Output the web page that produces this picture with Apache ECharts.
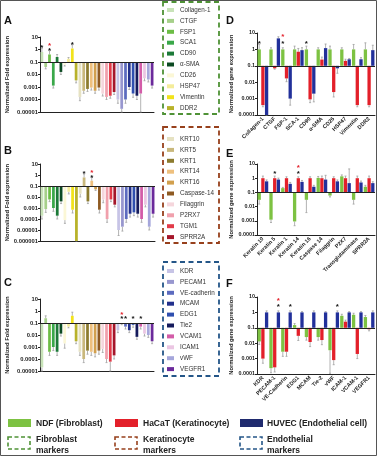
<!DOCTYPE html>
<html>
<head>
<meta charset="utf-8">
<script src="https://cdn.jsdelivr.net/npm/echarts@6/dist/echarts.min.js"></script>
<style>
html, body { margin: 0; padding: 0; background: #fff; }
#chart { width: 377px; height: 456px; }
</style>
</head>
<body>
<div id="chart"></div>
<script>
// marker genes, in legend order
const markerNames = ['Collagen-1','CTGF','FSP1','SCA1','CD90','α-SMA','CD26','HSP47','Vimentin','DDR2',
  'KRT10','KRT5','KRT1','KRT14','KRT16','Caspase-14','Filaggrin','P2RX7','TGM1','SPRR2A',
  'KDR','PECAM1','VE-cadherin','MCAM','EDG1','Tie2','VCAM1','ICAM1','vWF','VEGFR1'];
const markerColors = ['#c8e3b8','#a6d08a','#6cbd45','#3aa84a','#1c7a38','#0c4a22','#fbf7d6','#f4ec9a','#f2e31a','#b8b22a',
  '#e6e2c2','#c9b87c','#8c7b2e','#eec07e','#d2a04e','#8e5a22','#f5d6dc','#f0a0ac','#e23a48','#a5162a',
  '#c7c4e6','#9897cf','#5c6bbf','#22308c','#2f4faf','#151b5c','#d35ca8','#ebc6e3','#a5a6db','#6b2a9b'];

// fold expression, panels A-C
const foldA = [0.63,0.04,0.4,0.0013,0.25,0.016,0.06,0.18,1.2,0.0034,
  0.00016,0.0005,0.0007,0.0009,0.0005,0.0009,0.0003,0.00016,0.0002,0.0004,
  0.0001,0.000018,0.0001,0.001,0.0003,0.0002,0.0003,0.005,0.004,0.0013];
const errA = [0.3,0.15,0.3,0.2,0.2,0.2,0.1,0.1,0.3,0.2, 0.3,0.2,0.2,0.2,0.2,0.2,0.2,0.2,0.2,0.2,
  0.3,0.3,0.3,0.2,0.3,0.3,1.5,0.2,0.2,0.2];
const foldB = [0.0002,0.0008,0.006,0.001,0.0002,0.004,0.00008,0.03,0.0007,0.000001,
  0.02,0.6,0.004,0.3,0.05,0.0007,0.006,0.0001,0.006,0.002,
  0.00001,0.00002,0.0001,0.0003,0.0004,0.0003,0.0001,0.002,0.00002,0.0003];
const errB = [0.3,0.3,0.2,0.3,0.3,0.2,0.3,0.2,0.3,0.1, 0.3,0.3,0.2,0.3,0.1,0.3,0.3,0.3,0.2,0.2,
  0.5,0.4,0.3,0.3,0.3,0.3,0.3,0.2,0.3,0.3];
const foldC = [0.00002,0.25,0.0004,0.001,0.0004,0.013,0.002,0.05,0.4,0.003,
  0.0004,0.0001,0.0005,0.0004,0.0003,0.0005,0.0007,0.0001,0.00006,0.0002,
  0.025,0.09,0.05,0.025,0.07,0.007,0.05,0.013,0.01,0.003];
const errC = [0.3,0.2,0.3,0.3,0.3,0.2,0.4,0.1,0.3,0.2, 0.3,0.3,0.3,0.3,0.3,0.3,0.3,0.3,0.8,0.3,
  0.2,0.1,0.2,0.2,0.2,0.2,0.2,0.2,0.2,0.2];

// gene expression, panels D-F (NDF, HaCaT, HUVEC)
const catsD = ['Collagen-1','CTGF','FSP-1','SCA-1','CD90','α-SMA','CD26','HSP47','Vimentin','DDR2'];
const ndfD = [1,1,1,1,1,1,1,1,1,1];
const hacatD = [0.0004,0.07,0.017,0.72,0.0009,0.24,0.0025,0.2,0.0004,0.0004];
const huvecD = [0.0001,4.7,0.001,0.9,0.002,1.2,0.07,0.25,0.25,0.9];
const errNdfD = [0.3,0.1,0.1,0.2,0.2,0.1,0.2,0.1,0.3,0.4];
const errHacatD = [0.1,0.05,0.2,0.2,0.2,0.15,0.3,0.1,0.1,0.1];
const errHuvecD = [0,0.1,0.4,0.15,0.5,0.25,0.3,0.05,0.1,0.3];

const catsE = ['Keratin 10','Keratin 5','Keratin 1','Keratin 14','Keratin 16','Caspase 14','Filaggrin','P2X7','Transglutaminase','SPRR2A'];
const ndfE = [0.03,0.0012,0.2,0.0009,0.03,1.05,0.06,1.35,0.03,0.25];
const hacatE = [1,1,1,1,1,1,1,1,1,1];
const huvecE = [0.6,0.8,0.4,0.55,0.25,0.8,0.6,0.45,0.5,0.45];
const errNdfE = [0.3,0.2,0.05,0.3,0.9,0.1,0.1,0.1,0.3,0.1];
const errHacatE = [0.15,0.15,0.1,0.1,0.1,0.15,0.1,0.15,0.15,0.15];
const errHuvecE = [0.1,0.1,0.1,0.1,0.1,0.3,0.1,1.0,0.1,0.1];

const catsF = ['KDR','PECAM-1','VE-Cadherin','EDG1','MCAM','Tie-2','vWF','ICAM-1','VCAM-1','VEGFR1'];
const ndfF = [0.013,0.00024,0.0028,0.15,0.025,0.025,0.0035,0.6,0.7,0.5];
const hacatF = [0.001,0.00027,0.0028,0.03,0.012,0.016,0.0008,0.25,0.002,0.08];
const huvecF = [1,1,1,1,1,1,1,1,1,1];
const errNdfF = [0.2,0.3,0.3,0.1,0.2,0.2,1.5,0.1,0.1,0.1];
const errHacatF = [0.3,0.3,0.3,0.3,0.3,0.3,0.3,0.1,0.3,0.1];
const errHuvecF = [0.1,0.1,0.1,0.05,0.1,0.05,0.1,0.05,0.05,0.1];

// significance stars (bar indices)
const starsA = [0,2,8], redStarsA = [2];
const starsB = [11,13], redStarsB = [13];
const starsC = [21,22,24,26], redStarsC = [21];
const starsD = [0,2,4], redStarsD = [2];
const starsE = [1,3], redStarsE = [3];
const starsF = [1,2,6], redStarsF = [1];

const legendNames = ['NDF (Fibroblast)','HaCaT (Keratinocyte)','HUVEC (Endothelial cell)'];
const boxNames = [['Fibroblast','markers'],['Keratinocyte','markers'],['Endothelial','markers']];

const GREEN = '#7dc242', RED = '#e3202a', BLUE = '#22309a';
const BOXCOL = ['#4f9236','#97401c','#245688'];
const FONT = 'Liberation Sans';
const STEP = 3.7;

// plots are drawn in decades relative to 0.1
const t = v => Math.log10(v) + 1;
const tickFmt = x => {
  const e = Math.round(x) - 1;
  return e >= 0 ? String(Math.pow(10, e)) : Math.pow(10, e).toFixed(-e);
};

const grids = [
  {left: 40, top: 37, width: 114, height: 75},
  {left: 40, top: 164, width: 115, height: 77},
  {left: 40, top: 299, width: 114, height: 72},
  {left: 257, top: 33, width: 118, height: 82},
  {left: 257, top: 164, width: 118, height: 71},
  {left: 257, top: 297, width: 118, height: 77}
];
const yMins = [-4, -5, -4, -3, -3, -3];

const xAxis = grids.map((g, i) => ({
  type: 'category', gridIndex: i,
  data: i < 3 ? markerNames : [catsD, catsE, catsF][i - 3],
  axisLine: {onZero: false, lineStyle: {color: '#222', width: 1}},
  axisTick: {alignWithLabel: true, interval: 0, length: 2, lineStyle: {color: '#222'}},
  axisLabel: i < 3 ? {show: false} : {
    interval: 0, rotate: 45, fontSize: 5.5, fontWeight: 'bold', color: '#222',
    fontFamily: FONT, margin: 3
  }
}));

const yAxis = grids.map((g, i) => ({
  type: 'value', gridIndex: i, min: yMins[i], max: 2, interval: 1,
  name: i < 3 ? 'Normalized Fold expression' : 'Normalized gene expression',
  nameLocation: 'middle', nameGap: i < 3 ? 30 : 20,
  nameTextStyle: {fontSize: 5.8, fontWeight: 'bold', color: '#222', fontFamily: FONT},
  axisLine: {show: true, lineStyle: {color: '#222', width: 1}},
  axisTick: {show: true, length: 2, lineStyle: {color: '#222'}},
  splitLine: {show: false},
  axisLabel: {formatter: tickFmt, fontSize: i < 3 ? 5.8 : 5.4, fontWeight: 'bold', color: '#222',
    fontFamily: FONT, margin: 2}
}));

const baseLine = {
  silent: true, symbol: 'none', animation: false,
  label: {show: false},
  lineStyle: {color: '#222', width: 1, type: 'solid'},
  data: [{yAxis: 0}]
};

function errSeries(i, vals, errs, off) {
  const lo = yMins[i];
  return {
    type: 'custom', xAxisIndex: i, yAxisIndex: i, silent: true, z: 1,
    data: vals.map((v, k) => {
      const a = t(v), s = a >= 0 ? 1 : -1;
      return [k, Math.max(a, lo), Math.min(2, Math.max(lo, a + s * errs[k]))];
    }),
    renderItem: (p, api) => {
      const p1 = api.coord([api.value(0), api.value(1)]);
      const p2 = api.coord([api.value(0), api.value(2)]);
      const x = p1[0] + off;
      const st = {stroke: '#a0a0a0', lineWidth: 0.8};
      return {type: 'group', children: [
        {type: 'line', shape: {x1: x, y1: p1[1], x2: x, y2: p2[1]}, style: st},
        {type: 'line', shape: {x1: x - 1, y1: p2[1], x2: x + 1, y2: p2[1]}, style: st}
      ]};
    }
  };
}

function starSeries(i, idxs, vals, off, color, lift) {
  return {
    type: 'custom', xAxisIndex: i, yAxisIndex: i, silent: true, z: 5,
    data: idxs.map(k => [k, Math.max(t(vals[k]), 0) + 0.45 + lift]),
    renderItem: (p, api) => {
      const c = api.coord([api.value(0), api.value(1)]);
      return {type: 'text', x: c[0] + off, y: c[1] + 1.5, style: {
        text: '*', fill: color, font: 'bold 8px ' + FONT, align: 'center', verticalAlign: 'middle'
      }};
    }
  };
}

const series = [];
[[foldA, errA, starsA, redStarsA], [foldB, errB, starsB, redStarsB], [foldC, errC, starsC, redStarsC]]
  .forEach(([vals, errs, st, rst], i) => {
    series.push({
      type: 'bar', xAxisIndex: i, yAxisIndex: i, barWidth: '72%',
      data: vals.map((v, k) => ({value: Math.max(t(v), yMins[i]), itemStyle: {color: markerColors[k]}})),
      markLine: baseLine
    });
    series.push(errSeries(i, vals, errs, 0));
    series.push(starSeries(i, st, vals, 0, '#111', 0));
    series.push(starSeries(i, rst, vals, 0, '#e3202a', 0.4));
  });

[
  [ndfD, hacatD, huvecD, errNdfD, errHacatD, errHuvecD, starsD, redStarsD, 0],
  [ndfE, hacatE, huvecE, errNdfE, errHacatE, errHuvecE, starsE, redStarsE, 1],
  [ndfF, hacatF, huvecF, errNdfF, errHacatF, errHuvecF, starsF, redStarsF, 2]
].forEach(([g, r, b, eg, er, eb, st, rst, ref], j) => {
  const i = j + 3;
  const sets = [[g, eg, GREEN], [r, er, RED], [b, eb, BLUE]];
  sets.forEach(([vals, errs, col], s) => {
    series.push({
      type: 'bar', xAxisIndex: i, yAxisIndex: i, barWidth: 3.3, barGap: '12%',
      itemStyle: {color: col},
      data: vals.map(v => Math.max(t(v), yMins[i])),
      markLine: s === 0 ? baseLine : undefined
    });
  });
  sets.forEach(([vals, errs], s) => series.push(errSeries(i, vals, errs, (s - 1) * STEP)));
  const refVals = sets[ref][0];
  series.push(starSeries(i, st, refVals, (ref - 1) * STEP, '#111', 0));
  series.push(starSeries(i, rst, refVals, (ref - 1) * STEP, '#e3202a', 0.4));
});

// legend boxes and labels
const graphic = [];
graphic.push({type: 'rect', shape: {x: 0.5, y: 0.5, width: 376, height: 455},
  style: {fill: 'none', stroke: '#555', lineWidth: 1}});

[['A', 21], ['B', 151], ['C', 283]].forEach(([l, y]) => graphic.push({type: 'text', x: 4, y: y,
  style: {text: l, font: 'bold 11px ' + FONT, fill: '#111', verticalAlign: 'middle'}}));
[['D', 21], ['E', 154], ['F', 284]].forEach(([l, y]) => graphic.push({type: 'text', x: 226, y: y,
  style: {text: l, font: 'bold 11px ' + FONT, fill: '#111', verticalAlign: 'middle'}}));

const boxes = [{y: 2, h: 112, first: 10}, {y: 127, h: 116, first: 139}, {y: 262, h: 114, first: 271}];
boxes.forEach((bx, b) => {
  graphic.push({type: 'rect', shape: {x: 163, y: bx.y, width: 56, height: bx.h},
    style: {fill: 'none', stroke: BOXCOL[b], lineWidth: 1.8, lineDash: [5, 3.5]}});
  for (let k = 0; k < 10; k++) {
    const idx = b * 10 + k, y = bx.first + k * 10.9;
    graphic.push({type: 'rect', shape: {x: 167, y: y - 2, width: 7, height: 4},
      style: {fill: markerColors[idx]}});
    graphic.push({type: 'text', x: 180, y: y, style: {text: markerNames[idx],
      font: '6.3px ' + FONT, fill: '#333', verticalAlign: 'middle'}});
  }
});

const legX = [8, 115, 240];
const legTx = [36, 143, 267];
[GREEN, RED, '#1f2a6e'].forEach((c, k) => {
  graphic.push({type: 'rect', shape: {x: legX[k], y: 419, width: 23, height: 8}, style: {fill: c}});
  graphic.push({type: 'text', x: legTx[k], y: 423.5, style: {text: legendNames[k],
    font: 'bold 8.5px ' + FONT, fill: '#222', verticalAlign: 'middle'}});
  graphic.push({type: 'rect', shape: {x: legX[k], y: 437, width: 22, height: 12},
    style: {fill: 'none', stroke: BOXCOL[k], lineWidth: 1.6, lineDash: [4, 2.5]}});
  graphic.push({type: 'text', x: legTx[k], y: 440, style: {text: boxNames[k][0],
    font: 'bold 8.5px ' + FONT, fill: '#222', verticalAlign: 'middle'}});
  graphic.push({type: 'text', x: legTx[k], y: 451, style: {text: boxNames[k][1],
    font: 'bold 8.5px ' + FONT, fill: '#222', verticalAlign: 'middle'}});
});

const chart = echarts.init(document.getElementById('chart'), null, {renderer: 'canvas'});
chart.setOption({
  backgroundColor: '#fff',
  animation: false,
  textStyle: {fontFamily: FONT},
  grid: grids,
  xAxis, yAxis, series, graphic
});
</script>
</body>
</html>
